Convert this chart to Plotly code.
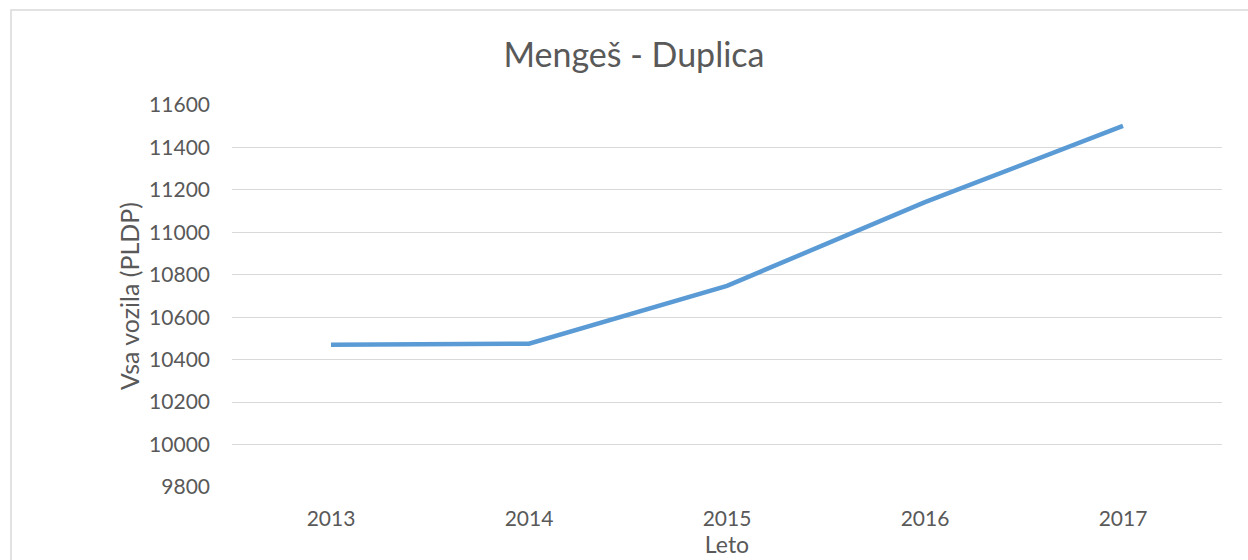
import plotly.graph_objects as go

years = ["2013", "2014", "2015", "2016", "2017"]
vehicles = [10470, 10475, 10748, 11142, 11502]
y_ticks = [9800, 10000, 10200, 10400, 10600, 10800, 11000, 11200, 11400, 11600]

W, H = 1248, 560
L, R, T, B = 232, 26, 105, 73
pw, ph = W - L - R, H - T - B

font = "Lato, 'Open Sans', sans-serif"
txt = "#595959"

fig = go.Figure()
fig.add_trace(go.Scatter(
    x=years, y=vehicles, mode="lines",
    line=dict(color="#5B9BD5", width=4.5),
    hoverinfo="x+y",
))

fig.update_layout(
    width=W, height=H,
    margin=dict(l=L, r=R, t=T, b=B),
    paper_bgcolor="white", plot_bgcolor="white",
    showlegend=False,
    title=dict(text="Mengeš - Duplica", x=0.508, xanchor="center",
               y=1 - 55 / H, yanchor="middle",
               font=dict(family=font, size=34, color=txt)),
    xaxis=dict(
        type="category", range=[-0.5, 4.5], automargin=False,
        showgrid=False, zeroline=False, showline=False,
        ticks="", ticklabelstandoff=17,
        tickfont=dict(family=font, size=21, color=txt),
        title=dict(text="Leto", font=dict(family=font, size=23, color=txt), standoff=6),
    ),
    yaxis=dict(
        range=[9800, 11600], tickvals=y_ticks, automargin=False,
        ticktext=[str(v) for v in y_ticks],
        showgrid=True, gridcolor="#D9D9D9", gridwidth=1.3,
        zeroline=False, showline=False, ticks="",
        ticklabelstandoff=21,
        tickfont=dict(family=font, size=21, color=txt),
        title=dict(text="Vsa vozila (PLDP)", font=dict(family=font, size=25, color=txt), standoff=2),
    ),
    shapes=[dict(
        type="rect", xref="paper", yref="paper",
        x0=(11 - L) / pw, x1=(1270 - L) / pw,
        y0=(H - B - 10) / ph, y1=(H - B - 580) / ph,
        line=dict(color="#D9D9D9", width=1.5), fillcolor="rgba(0,0,0,0)", layer="below",
    )],
)

fig.write_html("out.html", config={"displayModeBar": False},
               post_script="document.body.style.margin='0';")
